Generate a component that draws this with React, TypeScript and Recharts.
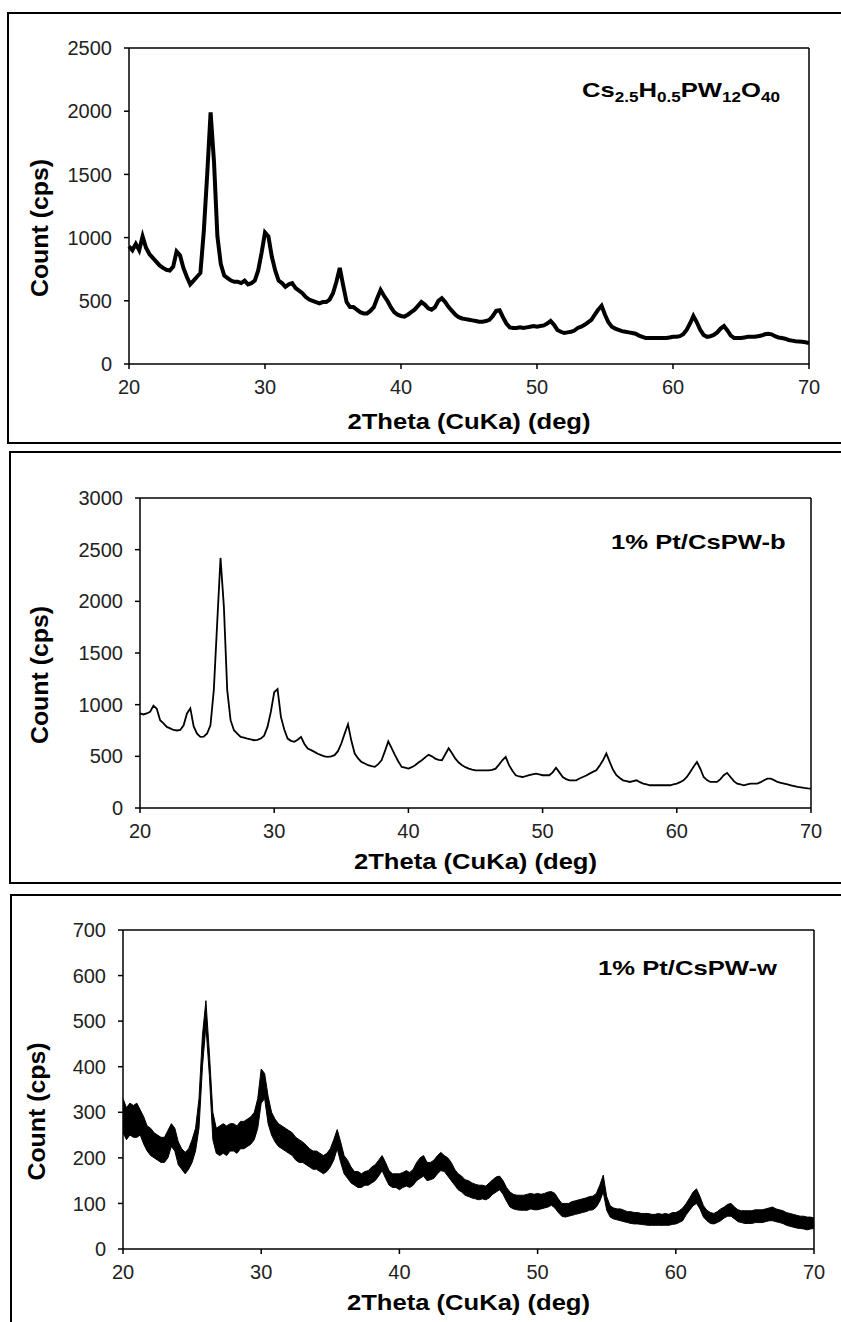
import { ComposedChart, Line, Area, XAxis, YAxis, ReferenceLine } from "recharts";

// 2-theta grid of the scans (deg)
const thetaStart = 20;
const thetaStep = 0.25;

// Cs2.5H0.5PW12O40, counts read every 0.25 deg from 20 to 70
const csCounts = [
  930, 900, 950, 900, 1010, 920, 870, 840, 810, 780, 760, 745, 740, 770, 890, 860,
  760, 690, 630, 660, 690, 720, 1050, 1500, 1990, 1600, 1010, 790, 700, 680, 660, 650,
  650, 640, 660, 630, 640, 660, 740, 880, 1040, 1010, 850, 740, 660, 640, 610, 630,
  640, 600, 580, 560, 530, 510, 500, 490, 480, 490, 490, 510, 560, 650, 760, 620,
  490, 450, 450, 430, 410, 400, 400, 420, 450, 520, 585, 540, 500, 450, 410, 390,
  380, 375, 390, 410, 430, 460, 490, 470, 440, 430, 450, 500, 520, 490, 450, 420,
  390, 370, 360, 355, 350, 345, 340, 335, 335, 340, 350, 380, 420, 425, 370, 320,
  290, 285, 285, 290, 285, 290, 295, 300, 295, 300, 305, 320, 340, 310, 270, 255,
  245, 250, 255, 265, 285, 295, 310, 330, 350, 390, 430, 460, 390, 330, 295, 280,
  270, 260, 255, 250, 245, 240, 225, 215, 205, 205, 205, 205, 205, 205, 205, 210,
  215, 215, 220, 235, 270, 320, 380, 330, 270, 230, 215, 220, 230, 250, 280, 300,
  265, 225, 205, 205, 205, 210, 215, 215, 215, 220, 225, 235, 240, 235, 220, 210,
  205, 200, 190, 185, 180, 178, 176, 172, 165,
];

// 1% Pt/CsPW-b
const ptBCounts = [
  915, 905, 915, 930, 990, 960, 850, 820, 785, 770, 755, 750, 755, 800, 915, 965,
  790, 720, 688, 690, 721, 800, 1141, 1787, 2420, 1949, 1141, 850, 753, 720, 688, 680,
  672, 665, 656, 660, 672, 700, 785, 930, 1120, 1150, 882, 760, 672, 650, 640, 660,
  688, 620, 575, 560, 543, 525, 511, 500, 494, 500, 511, 550, 624, 720, 810, 650,
  527, 480, 446, 430, 414, 405, 398, 425, 462, 550, 645, 580, 511, 450, 398, 390,
  381, 395, 414, 440, 462, 490, 515, 500, 478, 465, 462, 520, 578, 530, 478, 440,
  414, 395, 381, 372, 365, 365, 365, 365, 365, 370, 381, 420, 462, 494, 414, 360,
  317, 305, 300, 308, 317, 325, 333, 325, 317, 317, 317, 345, 390, 345, 300, 280,
  268, 268, 268, 285, 300, 315, 333, 350, 365, 410, 462, 527, 446, 370, 317, 290,
  268, 260, 252, 260, 268, 250, 236, 228, 220, 220, 220, 220, 220, 220, 220, 228,
  236, 250, 268, 300, 349, 400, 446, 380, 300, 270, 252, 252, 252, 280, 317, 340,
  300, 260, 236, 228, 220, 228, 236, 236, 236, 250, 268, 284, 284, 270, 252, 244,
  236, 228, 220, 212, 204, 199, 194, 190, 187,
];

// 1% Pt/CsPW-w: noisy scan, lower and upper edge of the trace
const ptWLow = [
  255, 240, 250, 245, 245, 250, 230, 215, 205, 200, 195, 190, 190, 200, 225, 215,
  185, 175, 165, 175, 190, 215, 265, 400, 490, 380, 240, 210, 205, 210, 205, 215,
  215, 210, 220, 220, 225, 230, 240, 265, 320, 330, 275, 250, 235, 225, 220, 215,
  210, 205, 195, 190, 190, 185, 180, 175, 175, 170, 165, 170, 180, 195, 220, 190,
  165, 155, 145, 140, 135, 135, 140, 140, 145, 150, 160, 172, 155, 140, 135, 135,
  130, 135, 138, 135, 140, 150, 155, 160, 150, 152, 155, 165, 172, 170, 160, 150,
  140, 130, 125, 118, 115, 112, 110, 108, 110, 108, 112, 120, 125, 130, 120, 105,
  92, 88, 86, 85, 85, 85, 88, 86, 86, 88, 90, 92, 96, 90, 80, 72,
  70, 72, 74, 76, 78, 80, 82, 85, 86, 92, 105, 125, 85, 70, 66, 64,
  62, 60, 58, 56, 55, 55, 54, 53, 52, 52, 52, 52, 52, 52, 52, 54,
  55, 58, 62, 75, 85, 95, 100, 88, 70, 62, 56, 55, 58, 62, 68, 72,
  72, 66, 60, 58, 56, 56, 56, 58, 58, 58, 60, 62, 62, 60, 58, 56,
  52, 50, 48, 46, 45, 44, 42, 44, 45,
];
const ptWHigh = [
  330, 310, 320, 315, 320, 305, 290, 270, 265, 255, 250, 245, 245, 260, 275, 265,
  235, 220, 212, 220, 240, 265, 330, 470, 545, 430, 300, 265, 270, 275, 270, 275,
  275, 270, 280, 280, 285, 290, 300, 330, 395, 385, 335, 300, 285, 275, 270, 265,
  260, 255, 245, 240, 235, 228, 220, 215, 215, 210, 205, 210, 220, 240, 262, 235,
  205, 195, 180, 170, 170, 165, 170, 172, 180, 185, 195, 205, 190, 172, 165, 165,
  165, 168, 172, 168, 175, 190, 200, 205, 190, 190, 195, 205, 212, 205, 200, 190,
  175, 165, 160, 152, 150, 145, 142, 140, 140, 138, 145, 152, 158, 160, 150, 135,
  125, 120, 118, 118, 118, 120, 122, 120, 122, 120, 122, 125, 126, 122, 110, 100,
  100, 100, 104, 106, 108, 110, 112, 115, 116, 122, 140, 162, 115, 95, 90, 88,
  88, 85, 82, 82, 80, 80, 78, 78, 78, 76, 76, 78, 76, 78, 76, 80,
  80, 84, 90, 100, 112, 125, 132, 115, 95, 85, 80, 78, 82, 88, 92, 98,
  100, 92, 86, 84, 84, 84, 84, 86, 86, 86, 88, 90, 92, 88, 86, 84,
  80, 78, 76, 74, 72, 72, 70, 70, 68,
];

const thetaTicks = [20, 30, 40, 50, 60, 70];
const csTicks = [0, 500, 1000, 1500, 2000, 2500];
const ptBTicks = [0, 500, 1000, 1500, 2000, 2500, 3000];
const ptWTicks = [0, 100, 200, 300, 400, 500, 600, 700];

const xTitle = "2Theta (CuKa) (deg)";
const yTitle = "Count (cps)";

const csRows = csCounts.map((count, i) => ({ theta: thetaStart + i * thetaStep, count }));
const ptBRows = ptBCounts.map((count, i) => ({ theta: thetaStart + i * thetaStep, count }));
const ptWRows = ptWLow.map((lo, i) => ({ theta: thetaStart + i * thetaStep, band: [lo, ptWHigh[i]] }));

const font = "'Liberation Sans', Arial, Helvetica, sans-serif";
const tickStyle = { fontSize: 20, fill: "#222", fontFamily: font };
const axisStroke = { stroke: "#000", strokeWidth: 1.5 };

// the original figure is stretched sideways, so titles get a fixed text length
const xTitleContent = (fromBottom: number) => (props: any) => {
  const vb = props.viewBox || { x: 0, y: 0, width: 0, height: 0 };
  return (
    <text
      x={vb.x + vb.width / 2}
      y={vb.y + vb.height - fromBottom}
      textAnchor="middle"
      fontFamily={font}
      fontWeight={700}
      fontSize={22}
      textLength={243}
      lengthAdjust="spacingAndGlyphs"
      fill="#000"
    >
      {xTitle}
    </text>
  );
};

const yTitleContent = (fromLeft: number) => (props: any) => {
  const vb = props.viewBox || { x: 0, y: 0, width: 0, height: 0 };
  const cx = vb.x + fromLeft;
  const cy = vb.y + vb.height / 2 + 22;
  return (
    <text
      x={cx}
      y={cy}
      dy="0.36em"
      transform={`rotate(-90, ${cx}, ${cy})`}
      textAnchor="middle"
      fontFamily={font}
      fontWeight={700}
      fontSize={23}
      textLength={138}
      lengthAdjust="spacingAndGlyphs"
      fill="#000"
    >
      {yTitle}
    </text>
  );
};

const panelBox = (left: number, top: number, height: number) => ({
  position: "absolute" as const,
  left,
  top,
  width: 900,
  height,
  border: "2px solid #000",
  boxSizing: "border-box" as const,
});

const noteStyle = (left: number, top: number) => ({
  position: "absolute" as const,
  left,
  top,
  fontFamily: font,
  fontWeight: 700,
  fontSize: 21,
  lineHeight: 1,
  whiteSpace: "nowrap" as const,
  color: "#000",
  transform: "scaleX(1.22)",
  transformOrigin: "left center",
});

const subStyle = { fontSize: 14, lineHeight: 0 };

export default function App() {
  return (
    <div
      style={{
        position: "absolute",
        left: 0,
        top: 0,
        width: 841,
        height: 1322,
        overflow: "hidden",
        background: "#fff",
      }}
    >
      <div style={panelBox(7, 12, 432)} />
      <div style={panelBox(9, 451, 433)} />
      <div style={panelBox(10, 894, 500)} />

      <div style={{ position: "absolute", left: 0, top: 0 }}>
        <ComposedChart width={841} height={450} data={csRows} margin={{ top: 48, right: 32, bottom: 6, left: 0 }}>
          <XAxis
            type="number"
            dataKey="theta"
            domain={[20, 70]}
            ticks={thetaTicks}
            interval={0}
            height={80}
            tickSize={5}
            tickMargin={11}
            axisLine={axisStroke}
            tickLine={axisStroke}
            tick={tickStyle}
            label={{ content: xTitleContent(15) }}
          />
          <YAxis
            type="number"
            domain={[0, 2500]}
            ticks={csTicks}
            interval={0}
            width={129}
            tickSize={5}
            tickMargin={12}
            axisLine={axisStroke}
            tickLine={axisStroke}
            tick={tickStyle}
            label={{ content: yTitleContent(40) }}
          />
          <ReferenceLine y={2500} stroke="#000" strokeWidth={1.5} />
          <ReferenceLine x={70} stroke="#000" strokeWidth={1.5} />
          <Line
            type="linear"
            dataKey="count"
            stroke="#000"
            strokeWidth={4}
            dot={false}
            isAnimationActive={false}
          />
        </ComposedChart>
      </div>

      <div style={{ position: "absolute", left: 0, top: 450 }}>
        <ComposedChart width={841} height={440} data={ptBRows} margin={{ top: 48, right: 30, bottom: 2, left: 0 }}>
          <XAxis
            type="number"
            dataKey="theta"
            domain={[20, 70]}
            ticks={thetaTicks}
            interval={0}
            height={80}
            tickSize={5}
            tickMargin={11}
            axisLine={axisStroke}
            tickLine={axisStroke}
            tick={tickStyle}
            label={{ content: xTitleContent(19) }}
          />
          <YAxis
            type="number"
            domain={[0, 3000]}
            ticks={ptBTicks}
            interval={0}
            width={140}
            tickSize={5}
            tickMargin={12}
            axisLine={axisStroke}
            tickLine={axisStroke}
            tick={tickStyle}
            label={{ content: yTitleContent(40) }}
          />
          <ReferenceLine y={3000} stroke="#000" strokeWidth={1.5} />
          <ReferenceLine x={70} stroke="#000" strokeWidth={1.5} />
          <Line
            type="linear"
            dataKey="count"
            stroke="#000"
            strokeWidth={1.8}
            dot={false}
            isAnimationActive={false}
          />
        </ComposedChart>
      </div>

      <div style={{ position: "absolute", left: 0, top: 885 }}>
        <ComposedChart width={841} height={437} data={ptWRows} margin={{ top: 45, right: 27, bottom: 0, left: 0 }}>
          <XAxis
            type="number"
            dataKey="theta"
            domain={[20, 70]}
            ticks={thetaTicks}
            interval={0}
            height={73}
            tickSize={5}
            tickMargin={11}
            axisLine={axisStroke}
            tickLine={axisStroke}
            tick={tickStyle}
            label={{ content: xTitleContent(12) }}
          />
          <YAxis
            type="number"
            domain={[0, 700]}
            ticks={ptWTicks}
            interval={0}
            width={123}
            tickSize={5}
            tickMargin={12}
            axisLine={axisStroke}
            tickLine={axisStroke}
            tick={tickStyle}
            label={{ content: yTitleContent(37) }}
          />
          <ReferenceLine y={700} stroke="#000" strokeWidth={1.5} />
          <ReferenceLine x={70} stroke="#000" strokeWidth={1.5} />
          <Area
            type="linear"
            dataKey="band"
            stroke="#000"
            strokeWidth={1}
            fill="#000"
            fillOpacity={1}
            isAnimationActive={false}
          />
        </ComposedChart>
      </div>

      <div style={noteStyle(582, 79)}>
        Cs<sub style={subStyle}>2.5</sub>H<sub style={subStyle}>0.5</sub>PW<sub style={subStyle}>12</sub>O
        <sub style={subStyle}>40</sub>
      </div>
      <div style={noteStyle(611, 531)}>1% Pt/CsPW-b</div>
      <div style={noteStyle(598, 957)}>1% Pt/CsPW-w</div>
    </div>
  );
}
